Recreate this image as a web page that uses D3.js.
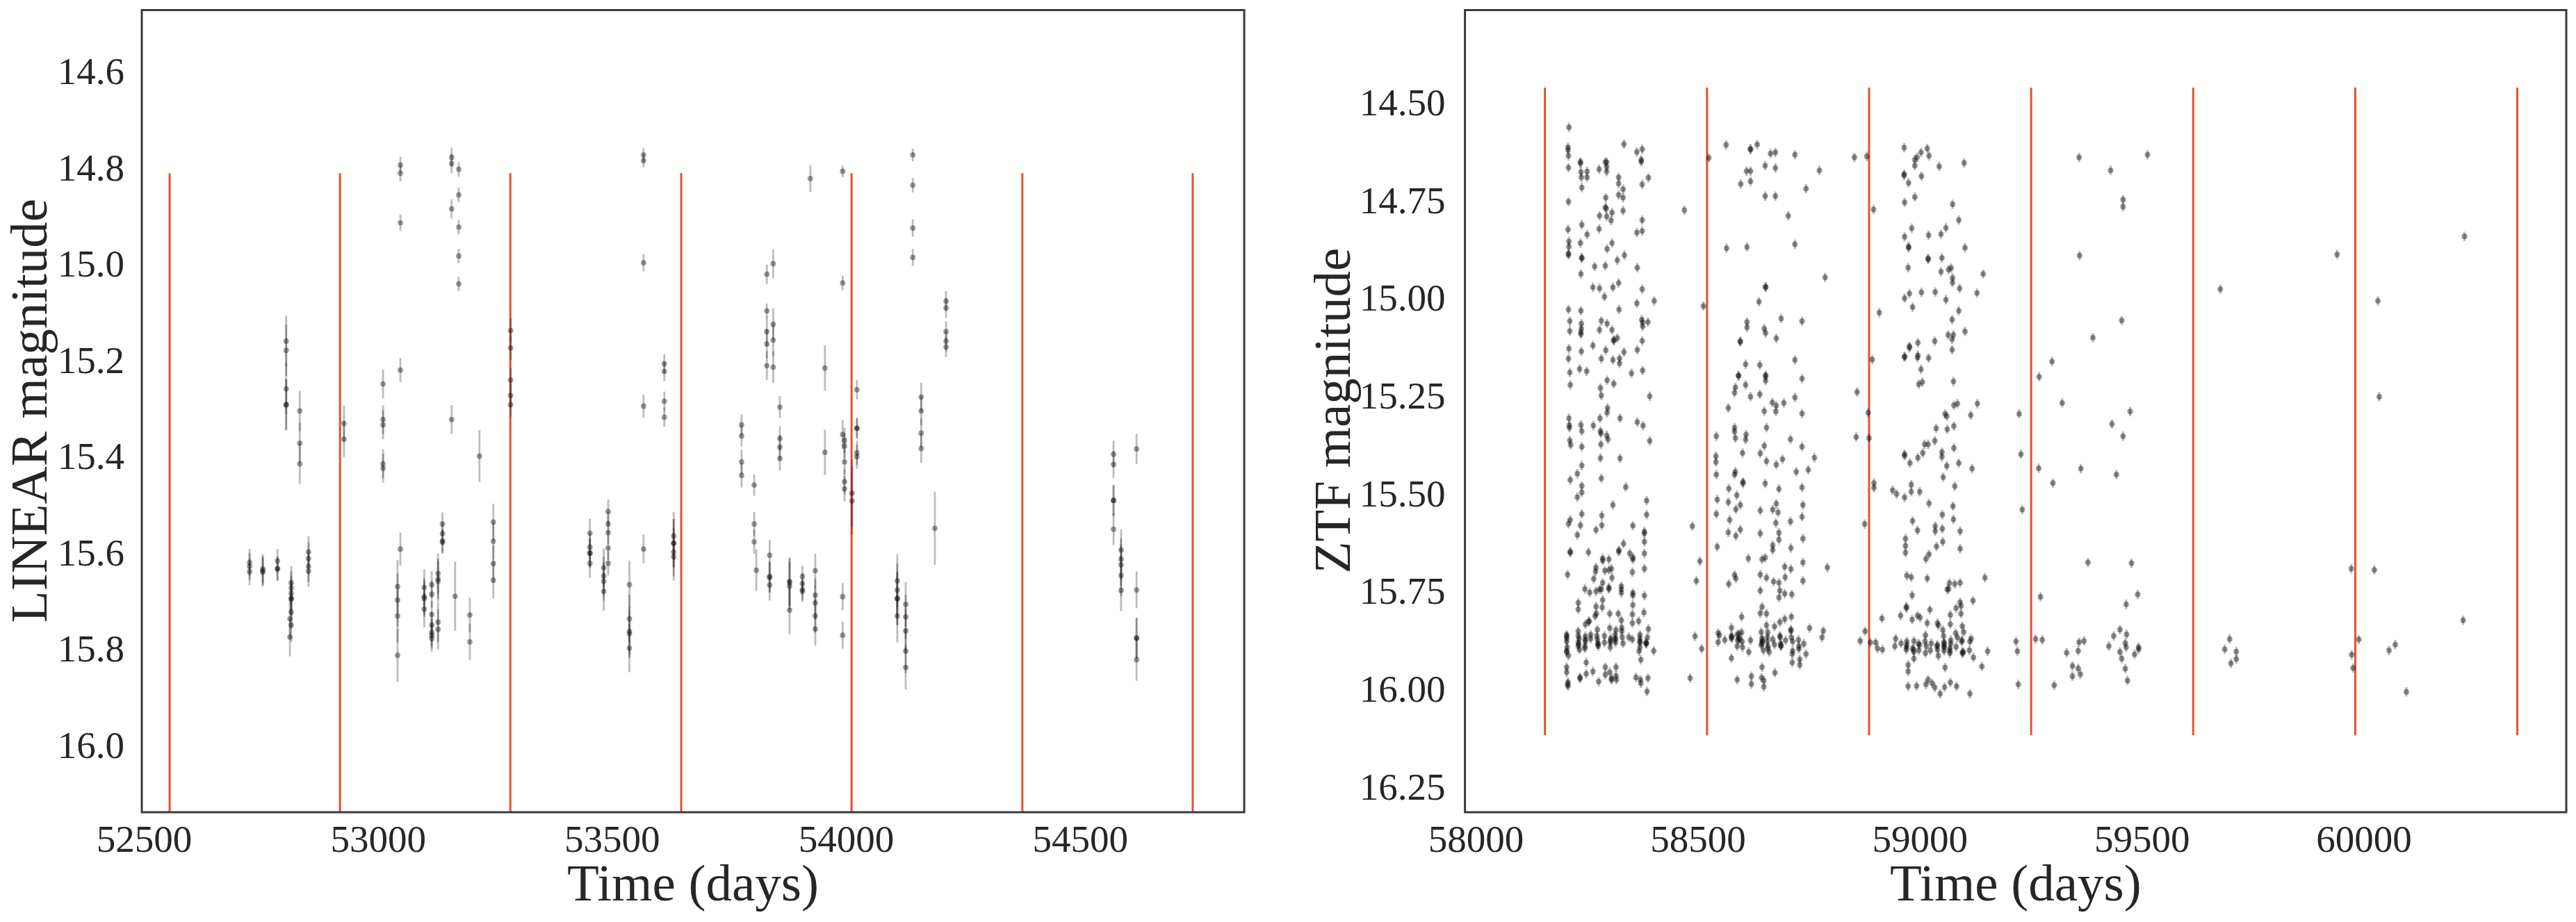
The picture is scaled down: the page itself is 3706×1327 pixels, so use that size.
<!DOCTYPE html>
<html><head><meta charset="utf-8">
<script src="https://cdn.jsdelivr.net/npm/d3@7"></script>
<style>html,body{margin:0;padding:0;background:#fff}svg{display:block}text{font-family:"Liberation Serif",serif;fill:#262626}</style>
</head><body><svg id="c" width="3706" height="1327"></svg>
<script>
// LINEAR: one entry per observing night: time, magnitudes, magnitude error
const linearTimes=[52804,52833,52927.5,53011,53011,53048,53048,53048,53157.5,53157.5,53172.7,53217,53283.6,53567.6,53567.6,53567.6,53567.6,53612,53612,53777,53777,53804,53804,53808.6,53831,53831,53831,53844.6,53844.6,53858.8,53858.8,53837,53879.6,53907,53934.5,53924,53955,53993,53993,53993,53993,53997,54013,54023.5,54023.5,54023.5,54142.8,54142.8,54142.8,54160.8,54213.9,54213.9,54190,54109.7,54127.7,54571.8,54571.8,54571.8,54587.9,54621,54621,54621,54621,52725.8,52754,52785.4,52814.8,52812,52851.7,53042,53099,53115,53128.5,53138,53165,53196.4,53196.4,53246.6,53453,53482.5,53492,53537.4,53632];
const linearMags=[[15.160,15.179,15.259,15.292,15.292],[15.305,15.372,15.415],[15.331,15.364],[15.249],[15.323,15.334,15.415,15.424],[14.794,14.811,14.914],[15.220],[15.592],[14.778,14.791,14.885],[15.323],[14.803,14.856,14.923,14.983,15.041],[15.399],[15.138,15.174,15.241,15.273,15.292],[14.773,14.785],[14.997],[15.295],[15.592],[15.207,15.223],[15.285,15.318],[15.334,15.357],[15.411,15.439],[15.459],[15.540,15.577],[15.636],[15.021],[15.097],[15.140,15.166,15.211],[14.999],[15.125,15.158,15.214],[15.297],[15.362,15.380,15.404],[15.605,15.649,15.651,15.667],[15.659,15.662,15.669,15.719],[15.649,15.664,15.676,15.680],[15.637,15.688,15.704,15.731,15.758],[14.822],[15.216,15.391],[14.807],[15.039],[15.354],[15.691,15.771],[15.366,15.378,15.411,15.452,15.467],[15.476,15.492],[15.261],[15.341,15.341],[15.392,15.400],[14.773],[14.836],[14.925,14.986],[15.276,15.305,15.351,15.383],[15.077,15.091],[15.140,15.160,15.172],[15.549],[15.658,15.677,15.695,15.695,15.731],[15.707,15.733,15.762,15.804,15.838],[15.395,15.416],[15.491,15.491],[15.551],[15.594,15.613,15.625,15.647,15.678],[15.384],[15.677],[15.777,15.777],[15.822],[15.620,15.628,15.639],[15.633,15.637,15.640],[15.617,15.633,15.633],[15.662,15.673,15.684,15.694,15.696,15.723,15.750],[15.737,15.775],[15.598,15.612,15.628,15.638],[15.670,15.698,15.731,15.813],[15.672,15.691,15.695,15.717],[15.666,15.686,15.728,15.750,15.765,15.771,15.778],[15.643,15.654,15.659,15.744,15.759],[15.540,15.560,15.575,15.578],[15.690],[15.729],[15.785],[15.536,15.576,15.622,15.657],[15.559,15.588,15.600,15.601,15.622],[15.631,15.648,15.659,15.680],[15.514,15.540,15.558,15.590,15.622],[15.666,15.737,15.763,15.768,15.798],[15.565,15.580,15.580,15.598,15.608]];
const linearErrors=[.053,.042,.037,.03,.03,.017,.025,.034,.02,.03,.015,.054,.025,.014,.018,.024,.03,.02,.02,.022,.025,.022,.025,.043,.02,.015,.03,.03,.033,.023,.025,.032,.05,.022,.035,.028,.047,.012,.015,.03,.028,.026,.07,.02,.021,.025,.013,.015,.018,.03,.021,.021,.076,.055,.046,.028,.032,.033,.043,.031,.038,.042,.044,.028,.03,.025,.035,.04,.033,.055,.038,.028,.042,.024,.072,.036,.038,.038,.03,.04,.025,.05,.05];
const linearYearStarts=[52555,52919,53283,53648,54012,54377,54741];
const linearTicksX=[52500,53000,53500,54000,54500];
const linearTicksY=[14.6,14.8,15.0,15.2,15.4,15.6,15.8,16.0];

// ZTF: [time, magnitude] by observing season
const ztfSeason1=[[58210,14.563],[58208,14.614],[58208,14.621],[58209,14.636],[58209,14.666],[58334,14.606],[58363,14.626],[58375,14.619],[58373,14.646],[58373,14.651],[58236,14.651],[58236,14.655],[58237,14.677],[58251,14.676],[58238,14.691],[58251,14.691],[58239,14.717],[58278,14.670],[58292,14.652],[58295,14.652],[58295,14.664],[58295,14.676],[58322,14.691],[58322,14.707],[58332,14.721],[58322,14.736],[58332,14.743],[58375,14.709],[58389,14.692],[58209,14.753],[58293,14.743],[58292,14.768],[58294,14.771],[58332,14.776],[58307,14.781],[58279,14.789],[58295,14.791],[58305,14.801],[58375,14.800],[58470,14.775],[58239,14.812],[58208,14.824],[58278,14.823],[58363,14.832],[58375,14.828],[58251,14.837],[58210,14.855],[58210,14.868],[58209,14.886],[58209,14.889],[58236,14.859],[58307,14.859],[58296,14.874],[58335,14.890],[58319,14.903],[58239,14.896],[58239,14.898],[58268,14.919],[58292,14.917],[58364,14.922],[58237,14.938],[58264,14.972],[58279,14.975],[58309,14.972],[58322,14.961],[58375,14.977],[58290,14.996],[58363,15.013],[58402,15.007],[58513,15.020],[58209,15.029],[58237,15.032],[58323,15.029],[58212,15.059],[58283,15.058],[58296,15.065],[58374,15.055],[58376,15.062],[58388,15.061],[58376,15.072],[58238,15.065],[58238,15.078],[58237,15.087],[58237,15.092],[58212,15.084],[58279,15.081],[58307,15.081],[58319,15.102],[58311,15.107],[58311,15.109],[58375,15.109],[58264,15.121],[58210,15.129],[58238,15.136],[58293,15.133],[58364,15.132],[58334,15.138],[58209,15.155],[58283,15.155],[58309,15.158],[58324,15.154],[58324,15.167],[58234,15.181],[58250,15.187],[58212,15.190],[58351,15.192],[58376,15.185],[58213,15.222],[58296,15.210],[58311,15.219],[58281,15.230],[58283,15.249],[58392,15.251],[58297,15.281],[58296,15.293],
[58210,15.307],[58211,15.325],[58211,15.331],[58237,15.324],[58239,15.340],[58265,15.326],[58280,15.307],[58281,15.340],[58282,15.346],[58295,15.351],[58298,15.361],[58325,15.307],[58364,15.317],[58377,15.326],[58212,15.364],[58214,15.375],[58239,15.380],[58282,15.374],[58392,15.365],[58281,15.409],[58325,15.410],[58239,15.428],[58229,15.449],[58213,15.465],[58283,15.461],[58239,15.480],[58239,15.497],[58229,15.509],[58338,15.483],[58385,15.518],[58309,15.529],[58385,15.554],[58239,15.552],[58284,15.556],[58213,15.567],[58209,15.577],[58236,15.581],[58284,15.581],[58271,15.593],[58354,15.582],[58229,15.606],[58380,15.597],[58380,15.602],[58380,15.623],[58333,15.628],[58323,15.645],[58322,15.648],[58213,15.648],[58213,15.651],[58254,15.650],[58380,15.653],[58347,15.653],[58354,15.663],[58354,15.668],[58286,15.666],[58286,15.671],[58300,15.668],[58271,15.689],[58270,15.699],[58291,15.697],[58306,15.692],[58300,15.695],[58380,15.692],[58353,15.701],[58207,15.707],[58307,15.715],[58266,15.718],[58286,15.728],[58300,15.740],[58300,15.744],[58328,15.737],[58328,15.745],[58328,15.754],[58246,15.744],[58257,15.753],[58271,15.750],[58279,15.745],[58283,15.745],[58354,15.754],[58354,15.760],[58380,15.761],[58286,15.772],[58231,15.779],[58231,15.796],[58354,15.785],[58271,15.789],[58285,15.791],[58488,15.583],[58505,15.673],[58497,15.723],
[58205,15.861],[58205,15.870],[58205,15.878],[58206,15.893],[58205,15.902],[58209,15.914],[58205,15.944],[58205,15.957],[58208,15.982],[58207,15.988],[58208,15.992],[58231,15.852],[58231,15.864],[58233,15.871],[58231,15.881],[58231,15.890],[58234,15.899],[58247,15.834],[58254,15.828],[58256,15.826],[58247,15.865],[58247,15.873],[58246,15.890],[58246,15.896],[58259,15.861],[58259,15.871],[58274,15.848],[58273,15.864],[58274,15.873],[58276,15.884],[58276,15.890],[58269,15.813],[58272,15.807],[58290,15.864],[58290,15.881],[58302,15.807],[58302,15.844],[58304,15.870],[58303,15.881],[58303,15.893],[58316,15.849],[58314,15.861],[58314,15.873],[58315,15.881],[58321,15.807],[58328,15.824],[58329,15.843],[58329,15.852],[58330,15.867],[58332,15.883],[58345,15.867],[58353,15.873],[58353,15.809],[58353,15.831],[58367,15.826],[58389,15.846],[58379,15.804],[58370,15.861],[58370,15.870],[58370,15.881],[58370,15.893],[58368,15.903],[58387,15.868],[58384,15.881],[58384,15.884],[58401,15.902],[58372,15.925],[58249,15.932],[58249,15.961],[58264,15.955],[58277,15.981],[58292,15.944],[58292,15.963],[58302,15.957],[58306,15.973],[58316,15.944],[58316,15.966],[58317,15.976],[58235,15.970],[58235,15.973],[58306,15.976],[58361,15.970],[58371,15.976],[58372,15.985],[58388,15.972],[58386,16.006],[58483,15.972],[58494,15.865],[58509,15.897],[58232,15.885],[58247,15.878],[58275,15.885],[58304,15.876],[58315,15.870],[58370,15.878],[58384,15.883],[58205,15.865],[58205,15.905]];
const ztfSeason2=[[58564,14.608],[58619,14.618],[58619,14.620],[58634,14.607],[58664,14.630],[58675,14.627],[58719,14.633],[58525,14.641],[58652,14.661],[58675,14.667],[58610,14.675],[58619,14.675],[58774,14.673],[58597,14.708],[58619,14.701],[58652,14.739],[58675,14.739],[58704,14.789],[58565,14.872],[58611,14.869],[58719,14.862],[58653,14.971],[58653,14.972],[58638,15.009],[58611,15.061],[58611,15.075],[58688,15.052],[58735,15.059],[58650,15.078],[58653,15.089],[58677,15.103],[58596,15.110],[58596,15.112],[58719,15.158],[58608,15.169],[58640,15.171],[58592,15.198],[58592,15.199],[58653,15.197],[58653,15.200],[58735,15.206],[58653,15.211],[58608,15.222],[58585,15.228],[58583,15.242],[58619,15.252],[58640,15.246],[58719,15.254],[58668,15.267],[58677,15.275],[58694,15.268],[58569,15.281],[58650,15.289],[58676,15.290],[58735,15.295],[58744,14.720],[58787,14.947],
[58583,15.331],[58583,15.341],[58585,15.358],[58609,15.349],[58608,15.362],[58542,15.353],[58655,15.331],[58709,15.361],[58650,15.378],[58735,15.380],[58601,15.396],[58641,15.397],[58655,15.417],[58677,15.426],[58691,15.412],[58763,15.408],[58541,15.404],[58541,15.419],[58542,15.451],[58585,15.444],[58583,15.451],[58722,15.444],[58749,15.439],[58602,15.470],[58602,15.474],[58652,15.474],[58683,15.488],[58735,15.484],[58570,15.487],[58588,15.504],[58544,15.515],[58569,15.522],[58596,15.529],[58586,15.540],[58677,15.526],[58669,15.541],[58681,15.548],[58641,15.543],[58737,15.529],[58542,15.552],[58572,15.567],[58735,15.559],[58676,15.575],[58709,15.571],[58569,15.599],[58586,15.608],[58596,15.592],[58641,15.602],[58683,15.600],[58683,15.618],[58737,15.615],[58544,15.636],[58669,15.632],[58669,15.644],[58710,15.639],[58614,15.666],[58645,15.668],[58652,15.664],[58737,15.676],[58696,15.687],[58710,15.693],[58792,15.689],[58583,15.708],[58586,15.717],[58641,15.707],[58655,15.715],[58671,15.725],[58697,15.714],[58683,15.728],[58737,15.723],[58570,15.731],[58641,15.748],[58685,15.748],[58696,15.756],[58712,15.758],[58683,15.766],[58645,15.790],
[58599,15.815],[58641,15.806],[58655,15.807],[58685,15.829],[58696,15.821],[58711,15.815],[58546,15.857],[58549,15.862],[58561,15.874],[58546,15.880],[58576,15.843],[58576,15.864],[58576,15.870],[58589,15.861],[58593,15.858],[58599,15.855],[58590,15.875],[58594,15.873],[58600,15.878],[58589,15.890],[58601,15.893],[58619,15.875],[58615,15.905],[58576,15.921],[58643,15.854],[58655,15.837],[58658,15.855],[58673,15.840],[58645,15.870],[58645,15.878],[58643,15.887],[58648,15.901],[58657,15.867],[58657,15.878],[58658,15.896],[58661,15.905],[58669,15.873],[58673,15.886],[58685,15.864],[58687,15.884],[58688,15.890],[58698,15.875],[58710,15.848],[58710,15.851],[58711,15.868],[58714,15.878],[58714,15.902],[58713,15.910],[58727,15.874],[58728,15.890],[58728,15.897],[58739,15.884],[58744,15.910],[58713,15.932],[58730,15.924],[58730,15.938],[58752,15.844],[58783,15.851],[58780,15.868],[58645,15.944],[58674,15.958],[58621,15.967],[58589,15.976],[58644,15.971],[58649,15.978],[58621,15.987],[58649,15.994],[58866,15.877],[58877,15.852],[58577,15.867],[58593,15.870],[58646,15.876],[58645,15.884],[58658,15.890],[58686,15.867],[58687,15.889]];
const ztfSeason3=[[58853,14.640],[58881,14.637],[58965,14.615],[59017,14.617],[59003,14.627],[59021,14.636],[58994,14.640],[58989,14.646],[58989,14.661],[59100,14.654],[59044,14.663],[58965,14.683],[58965,14.686],[59004,14.688],[58975,14.705],[58989,14.741],[58966,14.755],[59074,14.760],[58896,14.773],[59088,14.800],[58982,14.821],[59059,14.820],[58966,14.843],[59020,14.839],[59048,14.836],[58975,14.868],[58975,14.871],[59102,14.871],[59019,14.898],[59019,14.901],[59050,14.897],[58974,14.922],[59048,14.932],[59065,14.927],[59071,14.923],[59143,14.938],[59074,14.948],[59074,14.960],[59090,14.975],[59129,14.987],[59004,14.985],[59035,14.984],[58977,14.988],[58966,15.000],[59059,15.004],[58984,15.023],[58909,15.037],[59088,15.032],[59073,15.055],[59102,15.085],[59064,15.094],[59076,15.094],[59073,15.105],[59034,15.110],[58996,15.114],[58977,15.123],[58977,15.127],[59073,15.132],[58966,15.149],[58966,15.151],[58996,15.146],[58995,15.152],[59020,15.153],[58893,15.157],[59003,15.182],[59076,15.213],[59006,15.215],[58998,15.220],[58859,15.240],[59085,15.270],[59077,15.274],[59130,15.270],[58884,15.293],[59057,15.296],[59115,15.299],[59224,15.296],[59061,15.302],
[59037,15.333],[59062,15.335],[59077,15.327],[58857,15.355],[58886,15.358],[59034,15.365],[59011,15.374],[59019,15.374],[59077,15.383],[58966,15.399],[58966,15.403],[59050,15.394],[59050,15.406],[59007,15.396],[58996,15.408],[58978,15.422],[59061,15.429],[59088,15.422],[59118,15.436],[59053,15.458],[59079,15.481],[58981,15.477],[58981,15.495],[59000,15.495],[58939,15.491],[58948,15.501],[58966,15.510],[59021,15.525],[59075,15.532],[59051,15.554],[59076,15.566],[58984,15.570],[59035,15.583],[59035,15.596],[59051,15.590],[58995,15.594],[59091,15.596],[58968,15.615],[58968,15.634],[58968,15.651],[59052,15.623],[59038,15.635],[59021,15.655],[59014,15.667],[59091,15.641],[58876,15.578],[58897,15.473],[58897,15.485],[59228,15.399],[59231,15.541],[58971,15.710],[58981,15.714],[59017,15.717],[59147,15.715],[59067,15.729],[59079,15.731],[59091,15.728],[59062,15.745],[59065,15.744],[58983,15.760],[59120,15.774],[58970,15.789],[58970,15.793],[59091,15.778],[59093,15.787],[59023,15.797],[59082,15.793],
[58915,15.819],[58957,15.812],[58983,15.822],[58995,15.812],[59001,15.817],[59017,15.831],[59040,15.831],[59042,15.837],[59069,15.834],[59069,15.810],[59093,15.807],[59096,15.839],[59099,15.854],[59052,15.849],[59054,15.864],[59013,15.862],[59081,15.857],[59085,15.868],[58946,15.871],[58971,15.878],[58944,15.890],[58901,15.881],[58889,15.881],[58905,15.896],[58916,15.899],[58958,15.883],[58970,15.893],[58987,15.877],[58997,15.884],[59000,15.887],[59012,15.878],[59026,15.883],[59040,15.887],[59040,15.899],[59055,15.884],[59055,15.893],[59055,15.902],[59070,15.875],[59070,15.884],[59068,15.896],[59068,15.908],[59095,15.875],[59097,15.905],[59096,15.908],[59113,15.878],[59116,15.871],[59112,15.901],[59082,15.892],[59024,15.901],[59013,15.908],[58998,15.901],[58986,15.899],[58987,15.905],[58970,15.899],[58987,15.922],[59042,15.915],[59121,15.919],[59153,15.903],[59140,15.942],[59217,15.878],[59220,15.903],[58974,15.938],[58974,15.955],[59057,15.945],[58974,15.993],[58993,15.992],[59014,15.988],[59019,15.976],[59028,15.985],[59034,15.996],[59056,15.995],[59069,15.983],[59083,15.993],[59222,15.988],[59046,16.012],[59113,16.012],[58971,15.887],[58984,15.896],[59015,15.890],[59039,15.890],[59055,15.890],[59055,15.880],[59095,15.878],[59098,15.906],[59068,15.902]];
const ztfSeason4=[[59359,14.640],[59513,14.633],[59430,14.673],[59458,14.748],[59458,14.766],[59360,14.891],[59455,15.057],[59390,15.101],[59298,15.162],[59269,15.201],[59321,15.268],[59474,15.290],[59268,15.435],[59300,15.473],[59363,15.436],[59443,15.451],[59433,15.322],[59458,15.353],[59379,15.676],[59477,15.678],[59272,15.764],[59491,15.758],[59465,15.783],[59261,15.872],[59276,15.874],[59331,15.907],[59359,15.880],[59370,15.877],[59357,15.902],[59344,15.941],[59357,15.947],[59344,15.967],[59362,15.962],[59303,15.990],[59426,15.890],[59437,15.864],[59451,15.848],[59466,15.860],[59463,15.882],[59465,15.893],[59451,15.905],[59455,15.922],[59463,15.948],[59468,15.978],[59493,15.893],[59493,15.898],[59484,15.911]];
const ztfSeason5=[[59677,14.977],[59698,15.872],[59687,15.898],[59713,15.904],[59713,15.923],[59701,15.934],[59940,14.888],[59972,15.692],[59973,15.912],[59976,15.946]];
const ztfSeason6=[[60032,15.007],[60035,15.252],[60227,14.842],[60024,15.695],[59989,15.873],[60057,15.901],[60071,15.886],[60096,16.007],[60224,15.824]];
const ztfMagError=0.012;
const ztfYearStarts=[58156,58521,58886,59251,59616,59981,60346];
const ztfTicksX=[58000,58500,59000,59500,60000];
const ztfTicksY=[14.5,14.75,15.0,15.25,15.5,15.75,16.0,16.25];

const svg=d3.select('#c');
const RED='#e2532d', INK='#262626', FRAME='#3a3a3a';
function panel(o){
  const x=d3.scaleLinear().domain(o.xDomain).range([o.left,o.right]);
  const y=d3.scaleLinear().domain(o.yDomain).range([14.5,1169]);
  const g=svg.append('g');
  g.selectAll('line.red').data(o.years).join('line').attr('class','red')
    .attr('x1',d=>x(d)).attr('x2',d=>x(d)).attr('y1',y(o.redTop)).attr('y2',y(o.redBottom))
    .attr('stroke',RED).attr('stroke-width',3);
  g.selectAll('line.err').data(o.points).join('line').attr('class','err')
    .attr('x1',d=>x(d.t)).attr('x2',d=>x(d.t)).attr('y1',d=>y(d.m-d.e)).attr('y2',d=>y(d.m+d.e))
    .attr('stroke','#2c1f1f').attr('stroke-opacity',o.errOpacity).attr('stroke-width',o.errWidth);
  g.selectAll('circle').data(o.points).join('circle')
    .attr('cx',d=>x(d.t)).attr('cy',d=>y(d.m)).attr('r',o.r)
    .attr('fill','#111').attr('fill-opacity',o.ptOpacity);
  const ax=g.append('g').attr('transform','translate(0,1169)')
    .call(d3.axisBottom(x).tickValues(o.ticksX).tickSize(0).tickPadding(18).tickFormat(d3.format('d')));
  const ay=g.append('g').attr('transform',`translate(${o.left},0)`)
    .call(d3.axisLeft(y).tickValues(o.ticksY).tickSize(0).tickPadding(o.padY).tickFormat(d3.format(o.fmtY)));
  [ax,ay].forEach(a=>{a.select('.domain').remove();a.selectAll('text').style('font-size','55px').style('font-family','"Liberation Serif",serif').attr('fill',INK);});
  g.append('rect').attr('x',o.left).attr('y',14.5).attr('width',o.right-o.left).attr('height',1169-14.5)
    .attr('fill','none').attr('stroke',FRAME).attr('stroke-width',3);
  g.append('text').attr('x',(o.left+o.right)/2).attr('y',1296).attr('text-anchor','middle').style('font-size','75px').text('Time (days)');
  g.append('text').attr('transform',`translate(${o.labelX},591) rotate(-90)`).attr('text-anchor','middle').style('font-size','75px').text(o.ylabel);
}
const linearPoints=linearTimes.flatMap((t,i)=>linearMags[i].map(m=>({t,m,e:linearErrors[i]})));
const ztfPoints=[ztfSeason1,ztfSeason2,ztfSeason3,ztfSeason4,ztfSeason5,ztfSeason6].flat().map(([t,m])=>({t,m,e:ztfMagError}));
panel({left:204,right:1790,xDomain:[52495.5,54851],yDomain:[14.472,16.139],years:linearYearStarts,redTop:14.811,redBottom:16.139,
  points:linearPoints,r:3.9,ptOpacity:.42,errOpacity:.3,errWidth:2.8,ticksX:linearTicksX,ticksY:linearTicksY,fmtY:'.1f',padY:25,ylabel:'LINEAR magnitude',labelX:67});
panel({left:2107.6,right:3692,xDomain:[57975.9,60456.2],yDomain:[14.263,16.315],years:ztfYearStarts,redTop:14.461,redBottom:16.118,
  points:ztfPoints,r:4,ptOpacity:.45,errOpacity:.3,errWidth:3.2,ticksX:ztfTicksX,ticksY:ztfTicksY,fmtY:'.2f',padY:28,ylabel:'ZTF magnitude',labelX:1942});
</script></body></html>
